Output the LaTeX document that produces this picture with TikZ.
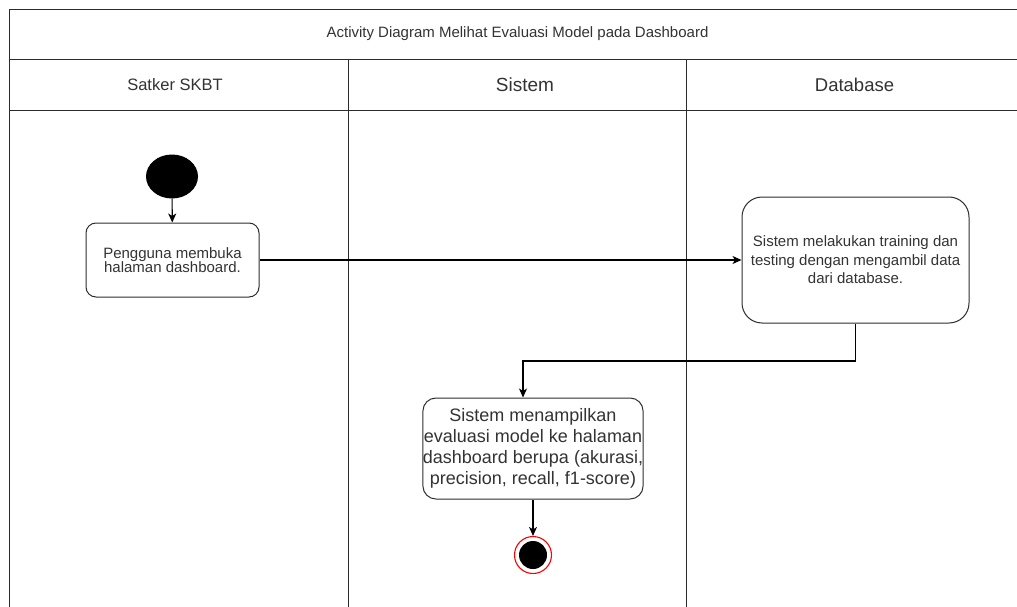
\documentclass[tikz,border=0pt]{standalone}
\usepackage{fontspec}
\setmainfont{Liberation Sans}
\usetikzlibrary{arrows.meta,shapes.geometric}
\definecolor{ink}{HTML}{333333}
\definecolor{frame}{HTML}{2B2B2B}
\tikzset{
  lane/.style={draw=frame, line width=0.9pt},
  actbox/.style={draw=ink!90!black, line width=1pt, rounded corners=#1, fill=white,
    inner sep=0pt, align=center, text=ink},
  flow/.style={draw=black, line width=1.1pt, -{Stealth[length=9pt,width=8pt,inset=2.5pt]}},
  lbl/.style={text=ink, inner sep=0pt, align=center}
}
\newcommand{\fs}[2]{\fontsize{#1}{#2}\selectfont}
\begin{document}
\begin{tikzpicture}[x=1pt,y=-1pt]
  \useasboundingbox (0,0) rectangle (1017,607);
  \fill[white] (0,0) rectangle (1017,607);

  % swimlane frame
  \draw[lane] (1017,9) -- (9,9) -- (9,607);
  \draw[lane] (9,59.5) -- (1017,59.5);
  \draw[lane] (9,110) -- (1017,110);
  \draw[lane] (348,59.5) -- (348,607);
  \draw[lane] (686,59.5) -- (686,607);

  % title and lane headers
  \node[lbl, font=\fs{15}{18}] (title) at (517.5,34) {Activity Diagram Melihat Evaluasi Model pada Dashboard};
  \node[lbl, font=\fs{16.5}{19}] (hdrA) at (175,84.5) {Satker SKBT};
  \node[lbl, font=\fs{19}{22}] (hdrB) at (525,84.5) {Sistem};
  \node[lbl, font=\fs{18.5}{21}] (hdrC) at (854.5,84.5) {Database};

  % initial node
  \node[ellipse, fill=black, minimum width=52pt, minimum height=44pt, inner sep=0pt] (start) at (172,176.5) {};

  % activities
  \node[actbox=10pt, minimum width=173pt, minimum height=74pt, font=\fs{15}{14.5}] (act1) at (172.5,260)
    {Pengguna membuka\\halaman dashboard.};
  \node[actbox=20pt, minimum width=227pt, minimum height=126pt, font=\fs{15}{18.5}] (act2) at (855.5,260)
    {Sistem melakukan training dan\\testing dengan mengambil data\\dari database.};
  \node[actbox=13pt, minimum width=220pt, minimum height=101pt, font=\fs{18}{21}] (act3) at (533,448.5)
    {Sistem menampilkan\\evaluasi model ke halaman\\dashboard berupa (akurasi,\\precision, recall, f1-score)};

  % final node
  \node[circle, draw=red, line width=1.1pt, fill=white, minimum size=37pt, inner sep=0pt] (end) at (533,555) {};
  \node[circle, fill=black, minimum size=28pt, inner sep=0pt] (endcore) at (end.center) {};

  % control flow
  \coordinate (bend) at (523,361);
  \draw[flow] (start) -- (act1);
  \draw[flow] (act1.east) -- (act2.west);
  \draw[flow] (act2.south) |- (bend) -- (act3.north -| bend);
  \draw[flow] (act3.south) -- (end.north);
\end{tikzpicture}
\end{document}
